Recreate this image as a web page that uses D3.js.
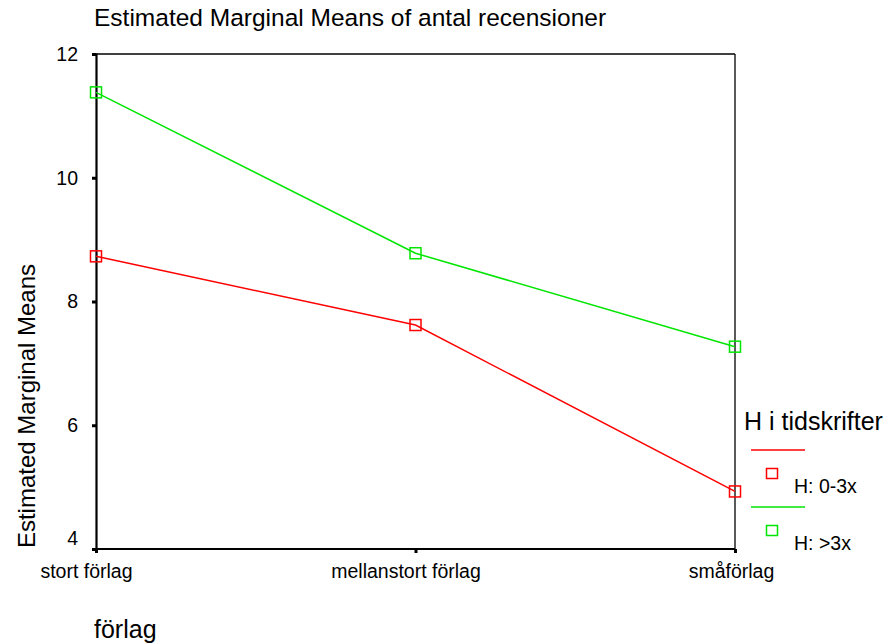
<!DOCTYPE html>
<html>
<head>
<meta charset="utf-8">
<script src="https://cdn.jsdelivr.net/npm/d3@7"></script>
<style>
  body { margin: 0; background: #fff; }
  text { font-family: Arial, "Liberation Sans", sans-serif; fill: #000; }
</style>
</head>
<body>
<div id="chart"></div>
<script>
var categories = ["stort förlag", "mellanstort förlag", "småförlag"];
var seriesNames = ["H: 0-3x", "H: >3x"];
var lowValues = [8.73, 7.62, 4.93];
var highValues = [11.38, 8.78, 7.27];
var yTicks = [4, 6, 8, 10, 12];
var colors = ["#ff0000", "#00e600"];

var width = 886, height = 644;
var plotLeft = 96, plotTop = 54, plotRight = 735, plotBottom = 549;

var svg = d3.select("#chart").append("svg")
    .attr("width", width)
    .attr("height", height);

var x = d3.scalePoint().domain(categories).range([plotLeft, plotRight]);
var y = d3.scaleLinear().domain([4, 12]).range([plotBottom, plotTop]);

// frame
svg.append("line").attr("x1", plotLeft).attr("x2", plotRight).attr("y1", plotTop).attr("y2", plotTop)
    .attr("stroke", "#000").attr("stroke-width", 1.3);
svg.append("line").attr("x1", plotRight).attr("x2", plotRight).attr("y1", plotTop).attr("y2", plotBottom)
    .attr("stroke", "#000").attr("stroke-width", 1.3);

// y axis
var yAxis = svg.append("g").attr("transform", "translate(" + plotLeft + ",0)")
    .call(d3.axisLeft(y).tickValues(yTicks).tickSize(4).tickPadding(14).tickFormat(d3.format("d")));
yAxis.select(".domain").attr("stroke-width", 2.2);
yAxis.selectAll(".tick line").attr("stroke-width", 3);
yAxis.selectAll("text").style("font-size", "19.5px").attr("fill", "#000");
// lowest label sits above the corner
yAxis.selectAll(".tick text").filter(function (d) { return d === 4; })
    .attr("dy", "-0.25em");

// x axis
var xAxis = svg.append("g").attr("transform", "translate(0," + plotBottom + ")")
    .call(d3.axisBottom(x).tickSize(4).tickPadding(11));
xAxis.select(".domain").attr("stroke-width", 2.2).attr("d", "M" + plotLeft + ",0H" + plotRight);
xAxis.selectAll(".tick line").attr("stroke-width", 3);
xAxis.selectAll("text").style("font-size", "19.5px").attr("fill", "#000")
    .attr("dx", function (d, i) { return i < 2 ? -10 : -4; });

var series = [lowValues, highValues];
var line = d3.line()
    .x(function (d, i) { return x(categories[i]); })
    .y(function (d) { return y(d); });

series.forEach(function (vals, s) {
    svg.append("path")
        .attr("d", line(vals))
        .attr("fill", "none")
        .attr("stroke", colors[s])
        .attr("stroke-width", 1.5);
    svg.selectAll(".m" + s)
        .data(vals)
        .enter()
        .append("rect")
        .attr("x", function (d, i) { return x(categories[i]) - 5.5; })
        .attr("y", function (d) { return y(d) - 5.5; })
        .attr("width", 11)
        .attr("height", 11)
        .attr("fill", "none")
        .attr("stroke", colors[s])
        .attr("stroke-width", 1.5);
});

// titles
svg.append("text").attr("x", 94).attr("y", 26)
    .style("font-size", "24.5px")
    .text("Estimated Marginal Means of antal recensioner");
svg.append("text")
    .attr("transform", "translate(35,406) rotate(-90)")
    .attr("text-anchor", "middle")
    .style("font-size", "24px")
    .text("Estimated Marginal Means");
svg.append("text").attr("x", 94).attr("y", 638)
    .style("font-size", "25px")
    .text("förlag");

// legend
svg.append("text").attr("x", 744).attr("y", 430)
    .style("font-size", "25px")
    .text("H i tidskrifter");
seriesNames.forEach(function (name, s) {
    var ly = 450 + s * 57;
    svg.append("line").attr("x1", 751).attr("x2", 805).attr("y1", ly).attr("y2", ly)
        .attr("stroke", colors[s]).attr("stroke-width", 1.5);
    svg.append("rect").attr("x", 766.5).attr("y", ly + 18.5).attr("width", 11).attr("height", 10)
        .attr("fill", "none").attr("stroke", colors[s]).attr("stroke-width", 1.5);
    svg.append("text").attr("x", 794).attr("y", ly + 43)
        .style("font-size", "19.5px")
        .text(name);
});
</script>
</body>
</html>
